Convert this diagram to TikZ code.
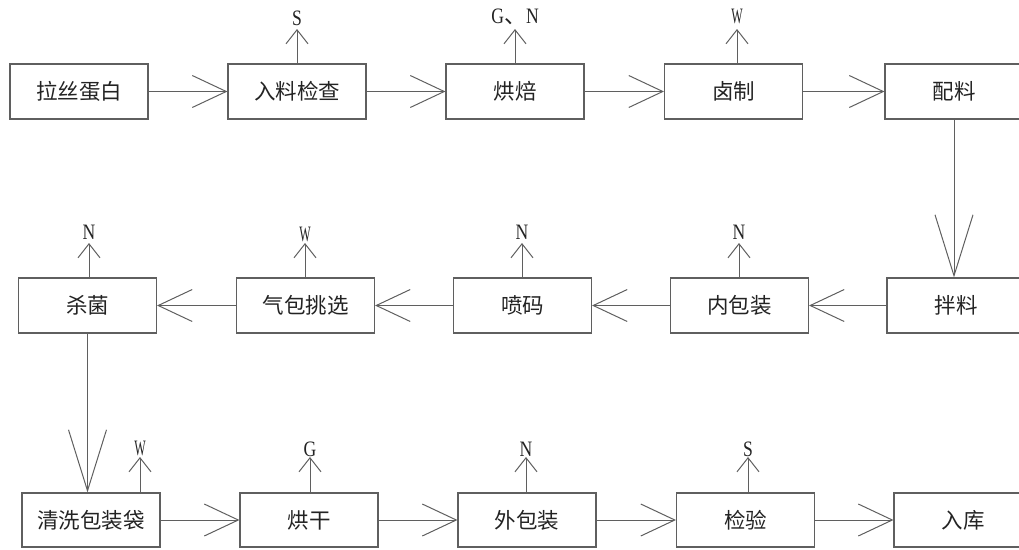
\documentclass[tikz,border=0pt]{standalone}
\usepackage{fontspec}
\usepackage{graphicx}
\setmainfont{Liberation Serif}
\newfontfamily\cjk{Noto Sans CJK SC}
\usetikzlibrary{arrows.meta}
\definecolor{linec}{RGB}{95,95,95}
\definecolor{txtc}{RGB}{35,35,35}
\newcommand\narw[1]{\scalebox{0.55}[1]{#1}}
\newcommand\nar[1]{\scalebox{0.8}[1]{#1}}
\begin{document}
\begin{tikzpicture}[x=1pt,y=-1pt,
  box/.style={draw=linec, line width=1.1pt, minimum width=138pt, minimum height=55pt,
    inner sep=0pt, font=\cjk\fontsize{21.5}{21.5}\selectfont, text=txtc},
  flow/.style={draw=linec, line width=1pt, -{Straight Barb[length=34pt,width=32pt]}},
  drop/.style={draw=linec, line width=1pt, -{Straight Barb[length=61pt,width=38pt]}},
  emit/.style={draw=linec, line width=1pt, -{Straight Barb[length=14pt,width=22pt]}},
  lab/.style={font=\fontsize{22}{22}\selectfont, inner sep=0pt, text=txtc}]
\useasboundingbox (0,0) rectangle (1019,549);
\clip (0,0) rectangle (1019,549);
% row 1
\node[box] (b1) at (79,91.5) {拉丝蛋白};
\node[box] (b2) at (297,91.5) {入料检查};
\node[box] (b3) at (515,91.5) {烘焙};
\node[box] (b4) at (733.5,91.5) {卤制};
\node[box] (b5) at (954,91.5) {配料};
% row 2
\node[box] (c1) at (87.5,305.5) {杀菌};
\node[box] (c2) at (305.5,305.5) {气包挑选};
\node[box] (c3) at (522.5,305.5) {喷码};
\node[box] (c4) at (739.5,305.5) {内包装};
\node[box] (c5) at (956,305.5) {拌料};
% row 3
\node[box, minimum height=54pt] (d1) at (91,520) {清洗包装袋};
\node[box, minimum height=54pt] (d2) at (309,520) {烘干};
\node[box, minimum height=54pt] (d3) at (527,520) {外包装};
\node[box, minimum height=54pt] (d4) at (745.5,520) {检验};
\node[box, minimum height=54pt] (d5) at (963,520) {入库};
% main flow
\draw[flow] (b1.east) -- (b2.west);
\draw[flow] (b2.east) -- (b3.west);
\draw[flow] (b3.east) -- (b4.west);
\draw[flow] (b4.east) -- (b5.west);
\draw[drop] (b5.south) -- (b5.south |- c5.north);
\draw[flow] (c5.west) -- (c4.east);
\draw[flow] (c4.west) -- (c3.east);
\draw[flow] (c3.west) -- (c2.east);
\draw[flow] (c2.west) -- (c1.east);
\draw[drop] (c1.south) -- (c1.south |- d1.north);
\draw[flow] (d1.east) -- (d2.west);
\draw[flow] (d2.east) -- (d3.west);
\draw[flow] (d3.east) -- (d4.west);
\draw[flow] (d4.east) -- (d5.west);
% emissions row 1
\coordinate (e2) at (297,29);
\coordinate (e3) at (515,29);
\coordinate (e4) at (737,29);
\draw[emit] (b2.north) -- (e2);
\draw[emit] (b3.north) -- (e3);
\draw[emit] (b4.north -| e4) -- (e4);
\node[lab] (s1) at (297,18) {\nar{S}};
\node[lab] (s2) at (515,17) {\nar{G}{\cjk 、}\nar{N}};
\node[lab] (s3) at (737,16) {\narw{W}};
% emissions row 2
\coordinate (f1) at (89,243);
\coordinate (f2) at (305,243);
\coordinate (f3) at (522,243);
\coordinate (f4) at (739,243);
\draw[emit] (c1.north -| f1) -- (f1);
\draw[emit] (c2.north -| f2) -- (f2);
\draw[emit] (c3.north -| f3) -- (f3);
\draw[emit] (c4.north -| f4) -- (f4);
\node[lab] (t1) at (89,232) {\nar{N}};
\node[lab] (t2) at (305,234) {\narw{W}};
\node[lab] (t3) at (522,232) {\nar{N}};
\node[lab] (t4) at (739,232) {\nar{N}};
% emissions row 3
\coordinate (g1) at (140,457);
\coordinate (g2) at (310,457);
\coordinate (g3) at (526,457);
\coordinate (g4) at (748,457);
\draw[emit] (d1.north -| g1) -- (g1);
\draw[emit] (d2.north -| g2) -- (g2);
\draw[emit] (d3.north -| g3) -- (g3);
\draw[emit] (d4.north -| g4) -- (g4);
\node[lab] (u1) at (140,448) {\narw{W}};
\node[lab] (u2) at (310,449) {\nar{G}};
\node[lab] (u3) at (526,449) {\nar{N}};
\node[lab] (u4) at (748,449) {\nar{S}};
\end{tikzpicture}
\end{document}
